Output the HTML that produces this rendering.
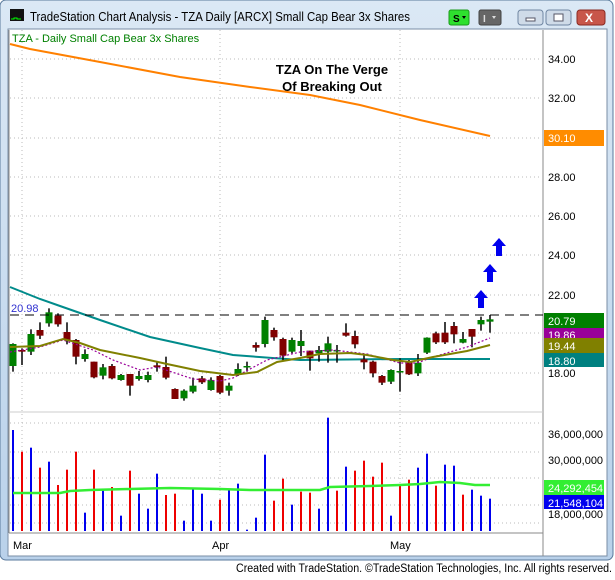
<!DOCTYPE html>
<html><head><meta charset="utf-8"><style>
body{margin:0;background:#fff;width:615px;height:575px;overflow:hidden;font-family:"Liberation Sans",sans-serif}
</style></head><body>
<svg id="s" width="615" height="575" xmlns="http://www.w3.org/2000/svg" font-family="Liberation Sans, sans-serif">
<defs><linearGradient id="tb" x1="0" y1="0" x2="0" y2="1"><stop offset="0" stop-color="#dbe8f5"/><stop offset="1" stop-color="#b9d1ea"/></linearGradient></defs>
<rect x="0" y="0" width="613" height="560" rx="6" fill="url(#tb)" stroke="#5a7a9c"/>
<rect x="8" y="29" width="599" height="527" fill="#fff" stroke="#7a8ea6"/>
<rect x="10" y="9" width="14" height="12" fill="#111"/><path d="M11 19h3v-1h3v1h4" stroke="#0f0" fill="none" stroke-width="1"/>
<text x="30" y="21" font-size="12.5" fill="#000" textLength="380" lengthAdjust="spacingAndGlyphs">TradeStation Chart Analysis - TZA Daily [ARCX] Small Cap Bear 3x Shares</text>
<rect x="449" y="10" width="20" height="15" rx="2" fill="#2ee02e" stroke="#1a9a1a"/><text x="453" y="22" font-size="10" font-weight="bold">S</text><path d="M462 16h4l-2 3z"/>
<rect x="479" y="10" width="22" height="15" rx="2" fill="#666" stroke="#444"/><text x="483" y="22" font-size="10" font-weight="bold" fill="#ddd">I</text><path d="M492 16h4l-2 3z" fill="#ddd"/>
<rect x="518" y="10" width="25" height="15" rx="3" fill="#cfdbe8" stroke="#6f86a2"/><rect x="526" y="18" width="9" height="3" fill="#fff" stroke="#556"/>
<rect x="546" y="10" width="25" height="15" rx="3" fill="#cfdbe8" stroke="#6f86a2"/><rect x="554" y="14" width="9" height="7" fill="#fff" stroke="#556"/>
<rect x="577" y="10" width="28" height="15" rx="3" fill="#c8564a" stroke="#8a2a22"/><text x="585" y="22" font-size="12" font-weight="bold" fill="#fff">X</text>
<line x1="9" y1="30" x2="9" y2="533" stroke="#888"/>
<line x1="543" y1="30" x2="543" y2="556" stroke="#888"/>
<line x1="9" y1="533" x2="543" y2="533" stroke="#888"/>
<line x1="9" y1="412" x2="543" y2="412" stroke="#ccc"/>
<g id="grid" stroke="#bbb" stroke-dasharray="1,3"></g>
<text x="12" y="42" font-size="11" fill="#008000">TZA - Daily  Small Cap Bear 3x Shares</text>
<g id="plot"></g>
<text x="332" y="74" font-size="13" font-weight="bold" text-anchor="middle">TZA On The Verge</text>
<text x="332" y="91" font-size="13" font-weight="bold" text-anchor="middle">Of Breaking Out</text>
<line x1="10" y1="315" x2="543" y2="315" stroke="#000" stroke-dasharray="9,6"/>
<text x="11" y="312" font-size="11" fill="#3030d0">20.98</text>
<g fill="#0000ee"><path d="M478 308h6v-10h4l-7-8-7 8h4z"/><path d="M487 282h6v-10h4l-7-8-7 8h4z"/><path d="M496 256h6v-10h4l-7-8-7 8h4z"/></g>
<g font-size="11" fill="#000">
<text x="548" y="63">34.00</text><text x="548" y="102">32.00</text><text x="548" y="142">30.00</text><text x="548" y="181">28.00</text><text x="548" y="220">26.00</text><text x="548" y="259">24.00</text><text x="548" y="299">22.00</text><text x="548" y="377">18.00</text>
<text x="548" y="438">36,000,000</text><text x="548" y="464">30,000,000</text><text x="548" y="518">18,000,000</text>
</g>
<rect x="544" y="130" width="60" height="16" fill="#ff8c00"/><text x="548" y="142" font-size="11" fill="#fff">30.10</text>
<rect x="544" y="313" width="60" height="15" fill="#008000"/><text x="548" y="325" font-size="11" fill="#fff">20.79</text>
<rect x="544" y="328" width="60" height="10" fill="#990099"/><text x="548" y="339" font-size="11" fill="#fff">19.86</text>
<rect x="544" y="338" width="60" height="15" fill="#808000"/><text x="548" y="350" font-size="11" fill="#fff">19.44</text>
<rect x="544" y="353" width="60" height="14" fill="#008080"/><text x="548" y="365" font-size="11" fill="#fff">18.80</text>
<rect x="544" y="480" width="60" height="15" fill="#33ee33"/><text x="548" y="492" font-size="11" fill="#fff">24,292,454</text>
<rect x="544" y="495" width="60" height="14" fill="#0000ee"/><text x="548" y="507" font-size="11" fill="#fff">21,548,104</text>
<g font-size="11"><text x="13" y="549">Mar</text><text x="212" y="549">Apr</text><text x="390" y="549">May</text></g>
<text x="612" y="572" font-size="11.5" text-anchor="end" textLength="376" lengthAdjust="spacingAndGlyphs">Created with TradeStation. ©TradeStation Technologies, Inc. All rights reserved.</text>
</svg>
<script>
var NS="http://www.w3.org/2000/svg",P=document.getElementById('plot'),G=document.getElementById('grid');
function el(t,a,p){var e=document.createElementNS(NS,t);for(var k in a)e.setAttribute(k,a[k]);(p||P).appendChild(e);return e;}
[59,98,138,177,216,255,295,333,373,423,452,478,505,523].forEach(function(y){el('line',{x1:10,y1:y,x2:542,y2:y},G);});
[22,220,400].forEach(function(x){el('line',{x1:x,y1:30,x2:x,y2:532},G);});
function pl(pts,st){el('polyline',{points:pts.map(function(p){return p.join(',')}).join(' '),fill:'none',stroke:st.c,'stroke-width':st.w,'stroke-dasharray':st.d||''});}
pl([[10,44],[30,49],[100,62],[180,77],[250,87],[310,95],[360,105],[420,120],[490,136]],{c:'#ff8000',w:2});
pl([[10,287],[40,299],[60,306],[100,320],[150,337],[200,348],[233,355],[300,360],[400,359],[490,359]],{c:'#008b8b',w:2});
var c=[['g',162,228,160,245],['r',180,185,175,225],['g',132,185,118,195],['r',120,137,97,147],['g',67,100,55,110],['r',77,103,70,110],['r',126,150,97,163],['r',150,200,147,223],['g',192,207,178,215],['r',215,262,215,265],['g',232,257,222,268],['r',228,265,222,268],['g',255,270,252,272],['r',252,287,252,317],['g',258,267,243,272],['g',255,270,245,277],['r',226,231,213,245],['r',231,263,200,268],['r',297,327,295,327],['g',302,325,298,332],['g',287,305,263,310],['r',265,277,258,282],['g',270,300,262,302],['r',258,308,255,312],['g',287,302,278,317],['g',237,255,220,258],['g',228,230,215,245],['r',165,173,157,185],['g',90,162,80,172],['r',120,142,113,152],['r',147,197,143,212],['g',150,185,143,190],['g',153,168,120,198],['r',182,205,182,242],['g',180,190,168,215],['g',160,185,140,218],['g',180,183,165,218],['r',128,137,100,140],['r',138,163,122,175],['r',208,217,195,238],['r',215,250,212,262],['r',258,278,255,285],['g',240,275,238,282],['g',243,245,205,305],['r',215,253,210,255],['g',218,250,192,258],['g',143,188,142,192],['r',130,157,125,162],['r',128,157,96,162],['r',108,133,96,160],['g',147,158,126,160],['r',117,140,117,172],['g',90,103,80,122],['g',88,95,75,128]];
c.forEach(function(d,i){var x=13+9*i,f=function(v){return 290+v/3;};
el('line',{x1:x,y1:f(d[3]),x2:x,y2:f(d[4]),stroke:'#000','stroke-width':1.5});
var h=Math.max(1.5,f(d[2])-f(d[1]));el('rect',{x:x-3.5,y:f(d[1]),width:7,height:h,fill:d[0]=='g'?'#008000':'#800000'});});
pl([[10,352],[40,347],[63,340],[93,350],[113,360],[140,370],[157,367],[193,379],[220,381],[233,378],[267,360],[300,352],[333,350],[367,354],[400,363],[417,363],[433,357],[467,347],[490,338]],{c:'#990099',w:1.2,d:'2,2'});
pl([[10,347],[40,346],[63,339],[80,343],[100,350],[140,358],[167,364],[200,371],[233,375],[257,372],[277,362],[300,358],[320,354],[350,353],[367,355],[393,360],[410,362],[433,357],[467,351],[490,345]],{c:'#808000',w:2});
var v=[['b',60],['r',125],['b',113],['r',173],['b',155],['r',225],['r',179],['r',125],['b',308],['r',179],['b',242],['r',231],['b',317],['r',182],['b',251],['b',296],['b',191],['r',255],['r',251],['b',332],['b',236],['b',251],['b',332],['r',269],['b',236],['b',221],['b',359],['b',323],['b',134],['r',272],['r',206],['b',284],['r',245],['r',248],['b',296],['b',23],['r',242],['b',170],['r',182],['r',152],['r',200],['r',158],['b',317],['r',224],['r',209],['b',173],['b',131],['r',227],['b',164],['b',167],['r',254],['b',239],['b',257],['b',266]];
v.forEach(function(d,i){var x=13+9*i;el('line',{x1:x,y1:410+d[1]/3,x2:x,y2:531,stroke:d[0]=='b'?'#0000ee':'#ee0000','stroke-width':2});});
pl([[13,493],[60,493],[70,491],[90,490],[130,489],[170,488],[220,489],[250,490],[320,490],[330,487],[370,486],[400,485],[420,484],[440,482],[460,483],[475,485],[490,485]],{c:'#33ee33',w:2.5});
</script>
</body></html>
